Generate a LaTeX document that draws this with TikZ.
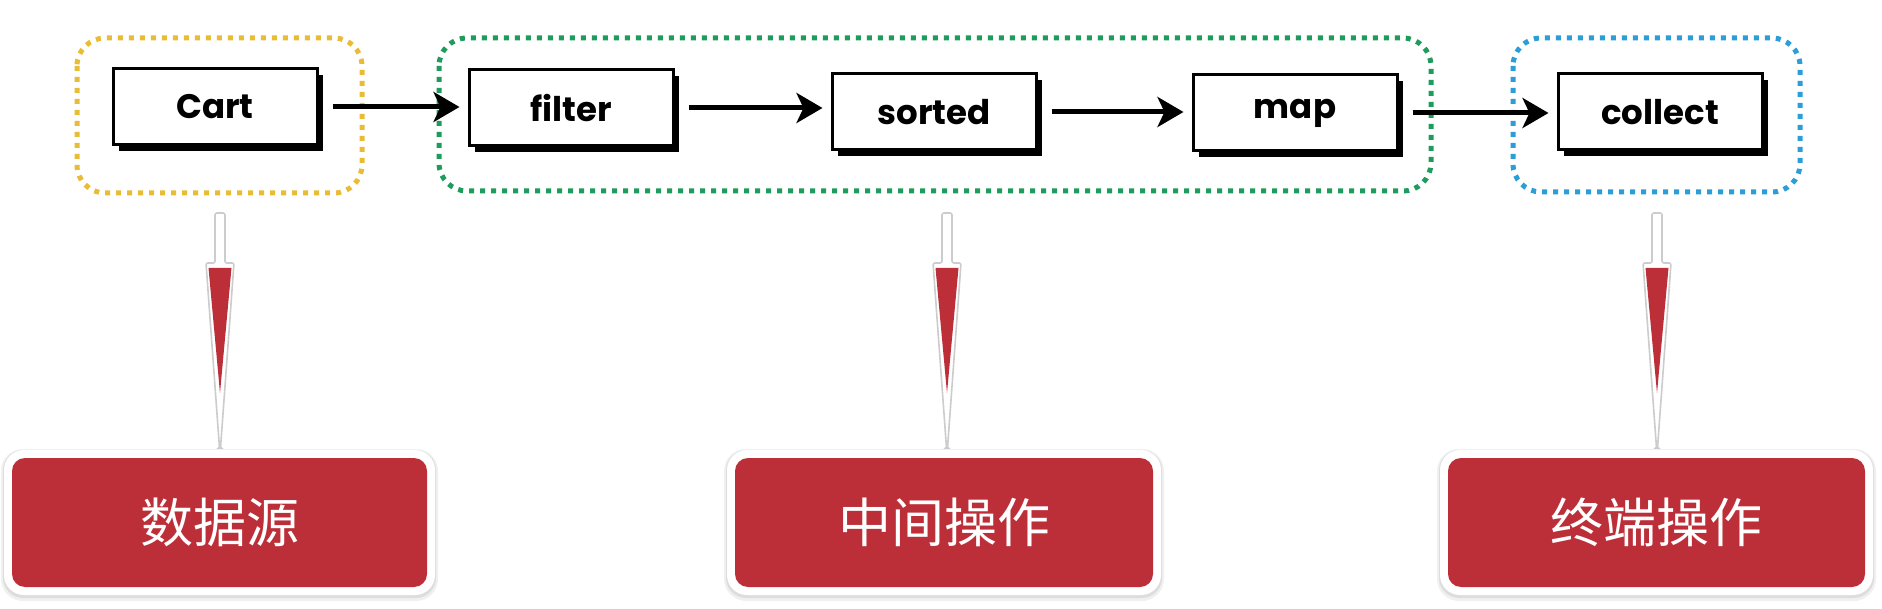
\documentclass[tikz,border=0pt]{standalone}
\usepackage{fontspec}
\newfontfamily\boxfont{Poppins}
\newfontfamily\cjk{Noto Sans CJK SC}
\usetikzlibrary{arrows.meta,calc,shadows}
\definecolor{tagred}{HTML}{BD2F38}
\definecolor{grpyellow}{HTML}{E8BC34}
\definecolor{grpgreen}{HTML}{1E9C5C}
\definecolor{grpblue}{HTML}{2B9ED8}
\begin{document}
\begin{tikzpicture}[x=1pt,y=-1pt,
  opbox/.style={draw=black, line width=3pt, fill=white, minimum width=204pt, minimum height=76pt, inner sep=0pt,
    font=\boxfont\bfseries\fontsize{34}{40}\selectfont,
    drop shadow={shadow xshift=6pt, shadow yshift=-6pt, fill=black, opacity=1}},
  flow/.style={line width=5pt, -{Stealth[length=26pt,width=30pt,inset=7pt]}, shorten <=14pt, shorten >=8pt},
  dotbox/.style={line width=5pt, dash pattern=on 5pt off 6pt, rounded corners=28pt},
  tag/.style={fill=tagred, rounded corners=13pt, minimum width=415pt, minimum height=129pt, inner sep=0pt,
    text=white, font=\cjk\fontsize{53}{60}\selectfont},
  dnarrow/.style={fill=white, draw=black!20, line width=1.6pt, rounded corners=2pt}
]
\useasboundingbox (0,0) rectangle (1882,609);
\fill[white] (0,0) rectangle (1882,609);

% group frames
\draw[dotbox, grpyellow] (77,38) rectangle (362,193);
\draw[dotbox, grpgreen] (439,38) rectangle (1431,191);
\draw[dotbox, grpblue] (1513,38) rectangle (1800,192);

% operation boxes
\node[opbox] (cart) at (215,107) {Cart};
\node[opbox] (filter) at (571,108) {filter};
\node[opbox] (sorted) at (934,112) {sorted};
\node[opbox] (map) at (1295,113) {map};
\node[opbox] (collect) at (1660,112) {collect};

% flow arrows
\draw[flow] (cart.east) -- (cart.east -| filter.west);
\draw[flow] (filter.east) -- (filter.east -| sorted.west);
\draw[flow] (sorted.east) -- (sorted.east -| map.west);
\draw[flow] (map.east) -- (map.east -| collect.west);

% tags with white frame and soft shadow
\foreach \n/\cx/\w/\t in {src/219.5/415/数据源, mid/944/418/中间操作, term/1656.5/417/终端操作}{
  \fill[black, opacity=0.06, rounded corners=22pt] (\cx-\w/2-11,458-9) rectangle (\cx+\w/2+11,587+14);
  \fill[black, opacity=0.08, rounded corners=20pt] (\cx-\w/2-9,458-8) rectangle (\cx+\w/2+9,587+11);
  \fill[white, rounded corners=20pt] (\cx-\w/2-8,458-8) rectangle (\cx+\w/2+8,587+8);
  \node[tag, minimum width=\w pt] (\n) at (\cx,522.5) {\t};
}

% downward arrows
\foreach \cx in {220,947,1657}{
  \draw[dnarrow] (\cx-5,213) -- (\cx+5,213) -- (\cx+5,263) -- (\cx+14,263) -- (\cx+0.5,448) -- (\cx-0.5,448) -- (\cx-14,263) -- (\cx-5,263) -- cycle;
  \fill[tagred] (\cx-11.5,268) -- (\cx+11.5,268) -- (\cx,393) -- cycle;
}
\end{tikzpicture}
\end{document}
